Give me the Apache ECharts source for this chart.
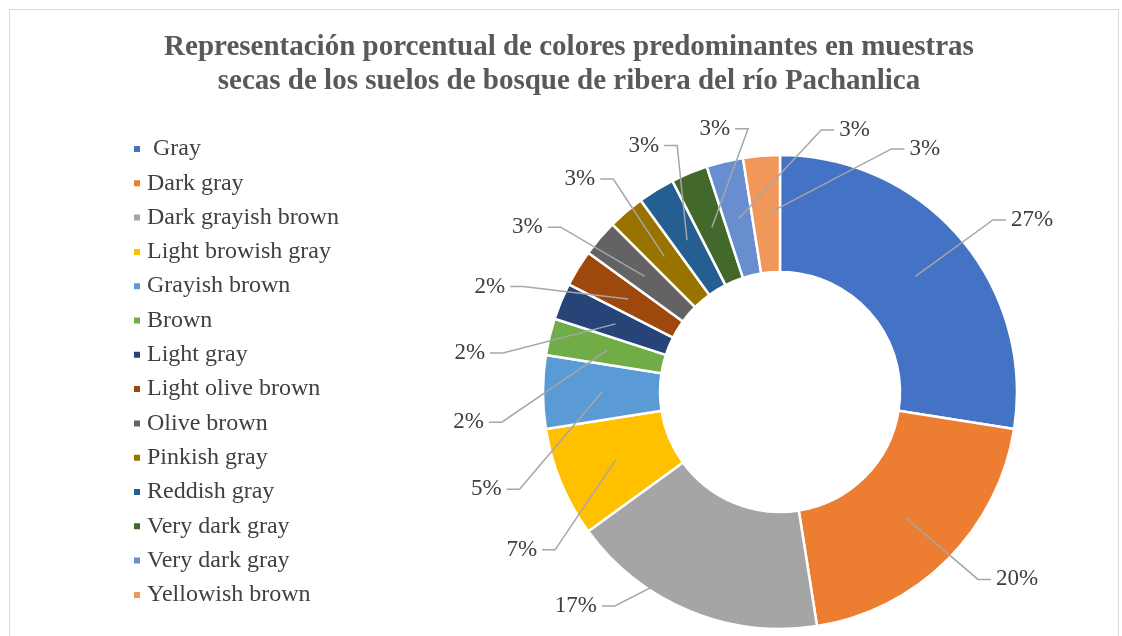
<!DOCTYPE html>
<html>
<head>
<meta charset="utf-8">
<script src="https://cdn.jsdelivr.net/npm/echarts@6/dist/echarts.min.js"></script>
<style>
html, body { margin: 0; padding: 0; background: #fff; }
#main { width: 1122px; height: 636px; }
</style>
</head>
<body>
<div id="main"></div>
<script>
var myChart = echarts.init(document.getElementById('main'));

// categorias (el segundo "Very dark gray" lleva un espacio final para que la leyenda no lo junte)
var categorias = [' Gray', 'Dark gray', 'Dark grayish brown', 'Light browish gray', 'Grayish brown',
    'Brown', 'Light gray', 'Light olive brown', 'Olive brown', 'Pinkish gray',
    'Reddish gray', 'Very dark gray', 'Very dark gray ', 'Yellowish brown'];
// numero de muestras por color
var muestras = [11, 8, 7, 3, 2, 1, 1, 1, 1, 1, 1, 1, 1, 1];
// etiquetas tal como aparecen en el grafico
var etiquetas = ['27%', '20%', '17%', '7%', '5%', '2%', '2%', '2%', '3%', '3%', '3%', '3%', '3%', '3%'];
var colores = ['#4472C4', '#ED7D31', '#A5A5A5', '#FFC000', '#5B9BD5', '#70AD47', '#264478',
    '#9E480E', '#636363', '#997300', '#255E91', '#43682B', '#698ED0', '#F1975A'];

var centro = [780, 392];
var rMedio = 178, tramo = 13;
var rx = 280, ry = 265, yMax = 214;

// angulo medio de cada sector (grados, sentido horario desde arriba)
var total = muestras.reduce(function (a, b) { return a + b; }, 0);
var angMedios = [];
var acum = 0;
muestras.forEach(function (v) {
    angMedios.push((acum + v / 2) / total * 360);
    acum += v;
});

// separa las etiquetas para que no se monten (como hace Excel)
function repartir(ang, sep) {
    var a = ang.slice();
    for (var it = 0; it < 300; it++) {
        for (var i = 1; i < a.length; i++) {
            var d = a[i] - a[i - 1];
            if (d < sep) {
                var m = (sep - d) / 2;
                a[i - 1] -= m;
                a[i] += m;
            }
        }
    }
    return a;
}
var angEtiq = repartir(angMedios, 15);

function punto(ang, r) {
    var t = ang * Math.PI / 180;
    return [centro[0] + r * Math.sin(t), centro[1] - r * Math.cos(t)];
}

// codo de la linea guia, sobre una elipse y sin salirse por abajo
function codo(ang) {
    var t = ang * Math.PI / 180;
    var x = rx * Math.sin(t), y = -ry * Math.cos(t);
    if (y > yMax) {
        var c = yMax / ry;
        x = rx * Math.sqrt(1 - c * c) * (x < 0 ? -1 : 1);
        y = yMax;
    }
    return [centro[0] + x, centro[1] + y];
}

var datos = categorias.map(function (c, i) {
    return { name: c, value: muestras[i], itemStyle: { color: colores[i] } };
});
var datosEtiquetas = categorias.map(function (c, i) {
    return { name: c, value: muestras[i], label: { formatter: etiquetas[i] } };
});

option = {
    color: colores,
    title: {
        text: 'Representación porcentual de colores predominantes en muestras\nsecas de los suelos de bosque de ribera del río Pachanlica',
        left: 569,
        textAlign: 'center',
        top: 31,
        padding: 0,
        textStyle: {
            fontFamily: 'Liberation Serif',
            fontWeight: 'bold',
            fontSize: 29,
            lineHeight: 34,
            color: '#595959'
        }
    },
    legend: {
        orient: 'vertical',
        left: 132,
        top: 137,
        padding: 0,
        icon: 'rect',
        itemWidth: 8,
        itemHeight: 8,
        itemGap: 10.3,
        selectedMode: false,
        data: categorias,
        textStyle: {
            fontFamily: 'Liberation Serif',
            fontSize: 24,
            lineHeight: 24,
            color: '#404040',
            padding: [0, 0, 0, 1]
        }
    },
    graphic: [{
        type: 'rect',
        shape: { x: 9.5, y: 9.5, width: 1109, height: 700 },
        style: { fill: 'none', stroke: '#D9D9D9', lineWidth: 1 },
        silent: true
    }],
    series: [
        {
            name: 'Colores',
            type: 'pie',
            z: 2,
            center: centro,
            radius: [120, 237],
            startAngle: 90,
            clockwise: true,
            silent: true,
            label: { show: false },
            labelLine: { show: false },
            itemStyle: { borderColor: '#fff', borderWidth: 2.5 },
            data: datos
        },
        {
            name: 'Etiquetas',
            type: 'pie',
            z: 5,
            center: centro,
            radius: [0, rMedio],
            startAngle: 90,
            clockwise: true,
            silent: true,
            avoidLabelOverlap: false,
            itemStyle: { color: 'rgba(0,0,0,0)' },
            label: {
                show: true,
                position: 'outside',
                fontFamily: 'Liberation Serif',
                fontSize: 23,
                color: '#404040'
            },
            labelLine: {
                show: true,
                length: 97,
                length2: 13,
                lineStyle: { color: '#A6A6A6', width: 1.5 }
            },
            labelLayout: function (p) {
                var i = p.dataIndex;
                var a0 = punto(angMedios[i], rMedio);
                var a1 = codo(angEtiq[i]);
                var der = a1[0] >= centro[0];
                var a2 = [a1[0] + (der ? tramo : -tramo), a1[1]];
                return {
                    x: a2[0] + (der ? 5 : -5),
                    y: a2[1],
                    align: der ? 'left' : 'right',
                    verticalAlign: 'middle',
                    labelLinePoints: [a0, a1, a2]
                };
            },
            data: datosEtiquetas
        }
    ]
};
myChart.setOption(option);
</script>
</body>
</html>
